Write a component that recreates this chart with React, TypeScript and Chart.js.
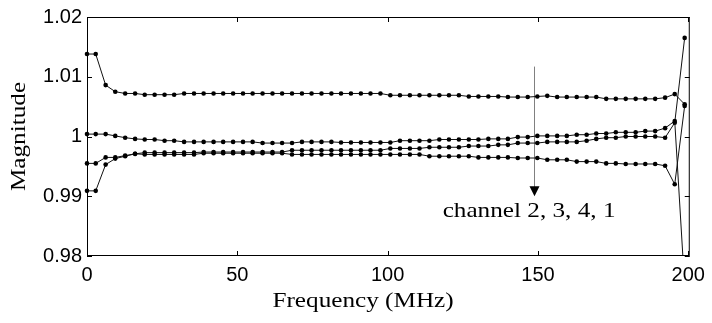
import React, { useEffect, useRef } from "react";
import { Chart, registerables } from "chart.js";

Chart.register(...registerables);

// ---------- data ----------
const freqMHz = [
  0, 2.9, 6.2, 9.4, 12.7, 16.0, 19.2, 22.5, 25.8, 29.0,
  32.3, 35.6, 38.8, 42.1, 45.3, 48.6, 51.9, 55.1, 58.4, 61.7,
  64.9, 68.2, 71.5, 74.7, 78.0, 81.3, 84.5, 87.8, 91.1, 94.3,
  97.6, 100.9, 104.1, 107.4, 110.6, 113.9, 117.2, 120.4, 123.7, 127.0,
  130.2, 133.5, 136.8, 140.0, 143.3, 146.6, 149.8, 153.1, 156.4, 159.6,
  162.9, 166.2, 169.4, 172.7, 175.9, 179.2, 182.5, 185.7, 189.0, 192.3,
  195.5, 198.8,
];

const channel2 = [
  1.0138, 1.0138, 1.0086, 1.0075, 1.0072, 1.0072, 1.007, 1.007, 1.007, 1.007,
  1.0072, 1.0072, 1.0072, 1.0072, 1.0072, 1.0072, 1.0072, 1.0072, 1.0072, 1.0072,
  1.0072, 1.0072, 1.0072, 1.0072, 1.0072, 1.0072, 1.0072, 1.0072, 1.0072, 1.0072,
  1.0072, 1.0069, 1.0069, 1.0069, 1.0069, 1.0069, 1.0069, 1.0069, 1.0069, 1.0067,
  1.0067, 1.0067, 1.0067, 1.0066, 1.0066, 1.0066, 1.0067, 1.0068, 1.0066, 1.0066,
  1.0066, 1.0066, 1.0066, 1.0063, 1.0063, 1.0063, 1.0063, 1.0063, 1.0063, 1.0065,
  1.0071, 1.0054,
];

const channel3 = [
  1.0004, 1.0004, 1.0004, 1.0001, 0.9998, 0.9996, 0.9995, 0.9995, 0.9993, 0.9993,
  0.9991, 0.9991, 0.9991, 0.9991, 0.9991, 0.9991, 0.9991, 0.9991, 0.9989, 0.9989,
  0.9989, 0.9989, 0.9991, 0.9991, 0.9991, 0.9991, 0.999, 0.999, 0.999, 0.999,
  0.999, 0.999, 0.9993, 0.9993, 0.9993, 0.9993, 0.9995, 0.9995, 0.9995, 0.9995,
  0.9995, 0.9996, 0.9996, 0.9996, 0.9999, 0.9999, 1.0001, 1.0001, 1.0001, 1.0001,
  1.0003, 1.0003, 1.0005, 1.0005, 1.0007, 1.0007, 1.0007, 1.0009, 1.0009, 1.0014,
  1.0026, 0.975,
];

const channel4 = [
  0.9909, 0.9909, 0.9953, 0.9963, 0.9967, 0.9971, 0.9973, 0.9973, 0.9973, 0.9973,
  0.9973, 0.9973, 0.9974, 0.9974, 0.9974, 0.9974, 0.9974, 0.9974, 0.9974, 0.9974,
  0.9974, 0.9977, 0.9977, 0.9977, 0.9977, 0.9977, 0.9977, 0.9977, 0.9977, 0.9977,
  0.9977, 0.998, 0.998, 0.998, 0.998, 0.9982, 0.9982, 0.9982, 0.9982, 0.9984,
  0.9984, 0.9984, 0.9986, 0.9986, 0.9989, 0.9989, 0.9989, 0.9991, 0.9991, 0.9991,
  0.9991, 0.9993, 0.9996, 0.9998, 0.9998, 1.0, 1.0, 1.0, 1.0, 0.9998,
  1.0023, 1.0165,
];

const channel1 = [
  0.9955, 0.9955, 0.9965, 0.9965, 0.9968, 0.9971, 0.997, 0.997, 0.997, 0.997,
  0.997, 0.997, 0.9972, 0.9972, 0.9972, 0.9972, 0.9972, 0.9972, 0.9972, 0.9972,
  0.9972, 0.997, 0.997, 0.997, 0.997, 0.997, 0.997, 0.997, 0.997, 0.997,
  0.997, 0.997, 0.997, 0.997, 0.997, 0.9967, 0.9967, 0.9967, 0.9967, 0.9967,
  0.9965, 0.9965, 0.9965, 0.9965, 0.9964, 0.9964, 0.9964, 0.9961, 0.9961, 0.9961,
  0.9958, 0.9958, 0.9958, 0.9955, 0.9955, 0.9954, 0.9954, 0.9954, 0.9954, 0.9951,
  0.992, 1.0051,
];

const seriesNames = ["channel 2", "channel 3", "channel 4", "channel 1"];

const xTickValues = [0, 50, 100, 150, 200];
const xTickLabels = ["0", "50", "100", "150", "200"];
const yTickValues = [0.98, 0.99, 1.0, 1.01, 1.02];
const yTickLabels = ["0.98", "0.99", "1", "1.01", "1.02"];

const xTitle = "Frequency (MHz)";
const yTitle = "Magnitude";
const annotationText = "channel 2, 3, 4, 1";
const arrowX = 148.6;
const arrowTopY = 1.0117;
const arrowTipY = 0.99;
const annotationX = 118.3;
const annotationY = 0.9865;

// ---------- plugin drawing frame, ticks, titles, annotation ----------
const SERIF = '"Liberation Serif", "Times New Roman", serif';
const STRETCH = 1.2;

const framePlugin = {
  id: "matlabFrame",
  beforeDatasetsDraw(chart: any) {
    const { ctx, scales } = chart;
    const x = scales.x, y = scales.y;
    const px = Math.round(x.getPixelForValue(arrowX)) + 0.5;
    const yTop = y.getPixelForValue(arrowTopY);
    const yTip = y.getPixelForValue(arrowTipY);
    ctx.save();
    ctx.strokeStyle = "#808080";
    ctx.lineWidth = 1;
    ctx.beginPath();
    ctx.moveTo(px, yTop);
    ctx.lineTo(px, yTip - 8);
    ctx.stroke();
    ctx.restore();
  },
  afterDatasetsDraw(chart: any) {
    const { ctx, chartArea, scales } = chart;
    const { left, right, top, bottom } = chartArea;
    const x = scales.x, y = scales.y;
    ctx.save();
    // frame
    ctx.strokeStyle = "#000";
    ctx.lineWidth = 1;
    ctx.strokeRect(left + 0.5, top + 0.5, right - left - 1, bottom - top - 1);
    // inward ticks
    const tl = 5;
    ctx.beginPath();
    xTickValues.forEach((v) => {
      const p = Math.round(x.getPixelForValue(v)) + 0.5;
      ctx.moveTo(p, bottom);
      ctx.lineTo(p, bottom - tl);
      ctx.moveTo(p, top);
      ctx.lineTo(p, top + tl);
    });
    yTickValues.forEach((v) => {
      const p = Math.round(y.getPixelForValue(v)) + 0.5;
      ctx.moveTo(left, p);
      ctx.lineTo(left + tl, p);
      ctx.moveTo(right, p);
      ctx.lineTo(right - tl, p);
    });
    ctx.stroke();

    // arrow head
    const px = Math.round(x.getPixelForValue(arrowX)) + 0.5;
    const yTip = y.getPixelForValue(arrowTipY);
    ctx.fillStyle = "#000";
    ctx.beginPath();
    ctx.moveTo(px, yTip);
    ctx.lineTo(px - 5, yTip - 10);
    ctx.lineTo(px + 5, yTip - 10);
    ctx.closePath();
    ctx.fill();

    // annotation text
    ctx.font = `21px ${SERIF}`;
    ctx.textBaseline = "alphabetic";
    ctx.textAlign = "left";
    ctx.save();
    ctx.translate(x.getPixelForValue(annotationX), y.getPixelForValue(annotationY));
    ctx.scale(STRETCH, 1);
    ctx.fillText(annotationText, 0, 0);
    ctx.restore();

    // x title
    ctx.save();
    ctx.textAlign = "center";
    ctx.translate(left + (right - left) * 0.458, 307);
    ctx.scale(STRETCH, 1);
    ctx.fillText(xTitle, 0, 0);
    ctx.restore();

    // y title
    ctx.save();
    ctx.textAlign = "center";
    ctx.translate(25, (top + bottom) / 2);
    ctx.rotate(-Math.PI / 2);
    ctx.scale(STRETCH, 1);
    ctx.fillText(yTitle, 0, 0);
    ctx.restore();

    ctx.restore();
  },
};

export default function App() {
  const canvasRef = useRef<HTMLCanvasElement | null>(null);

  useEffect(() => {
    const canvas = canvasRef.current;
    if (!canvas) return;
    const series = [channel2, channel3, channel4, channel1];
    const chart = new Chart(canvas, {
      type: "line",
      data: {
        datasets: series.map((vals, i) => ({
          label: seriesNames[i],
          data: freqMHz.map((f, k) => ({ x: f, y: vals[k] })),
          borderColor: "#111",
          backgroundColor: "#000",
          borderWidth: 1,
          pointRadius: 2.3,
          pointBorderWidth: 0,
          pointBackgroundColor: "#000",
          tension: 0,
          fill: false,
          clip: { left: 6, top: 6, right: 6, bottom: 0 },
        })),
      },
      options: {
        responsive: false,
        animation: false,
        devicePixelRatio: 1,
        layout: { padding: { left: 0, top: 17, right: 22, bottom: 0 } },
        plugins: {
          legend: { display: false },
          tooltip: { enabled: false },
          title: { display: false },
        },
        scales: {
          x: {
            type: "linear",
            min: 0,
            max: 200.5,
            grid: { display: false, drawTicks: false },
            border: { display: false },
            afterBuildTicks: (scale: any) => {
              scale.ticks = xTickValues.map((value) => ({ value }));
            },
            afterFit: (scale: any) => {
              scale.height = 67;
            },
            ticks: {
              autoSkip: false,
              maxRotation: 0,
              padding: 7,
              color: "#000",
              font: { family: '"Liberation Sans", Arial, sans-serif', size: 20 },
              callback: (_v: any, i: number) => xTickLabels[i],
            },
          },
          y: {
            type: "linear",
            min: 0.98,
            max: 1.02,
            grid: { display: false, drawTicks: false },
            border: { display: false },
            afterBuildTicks: (scale: any) => {
              scale.ticks = yTickValues.map((value) => ({ value }));
            },
            afterFit: (scale: any) => {
              scale.width = 87;
            },
            ticks: {
              autoSkip: false,
              padding: 5,
              color: "#000",
              font: { family: '"Liberation Sans", Arial, sans-serif', size: 20 },
              callback: (_v: any, i: number) => yTickLabels[i],
            },
          },
        },
      },
      plugins: [framePlugin],
    });
    return () => chart.destroy();
  }, []);

  return (
    <div
      style={{
        position: "fixed",
        left: 0,
        top: 0,
        width: 712,
        height: 323,
        background: "#fff",
      }}
    >
      <canvas ref={canvasRef} width={712} height={323} style={{ display: "block" }} />
    </div>
  );
}
